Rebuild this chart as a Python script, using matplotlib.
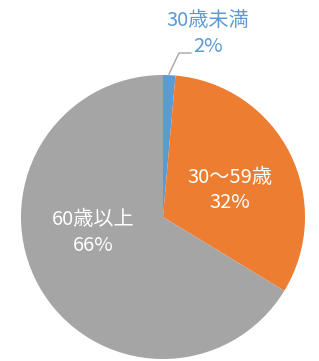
import matplotlib
matplotlib.use("Agg")
import matplotlib.pyplot as plt
import numpy as np

plt.rcParams['font.family'] = ['Noto Sans CJK JP', 'DejaVu Sans']

categories = ["30歳未満", "30～59歳", "60歳以上"]
values = [1.4, 32.3, 66.3]
pct_labels = ["2%", "32%", "66%"]
colors = ["#5B9BD5", "#ED7D31", "#A5A5A5"]

W, H = 319, 361
fig = plt.figure(figsize=(W / 100, H / 100), dpi=100)
cx, cy, R = 163, 217, 142
ax = fig.add_axes([(cx - R) / W, (H - cy - R) / H, 2 * R / W, 2 * R / H])
wedges, _ = ax.pie(values, colors=colors, startangle=90, counterclock=False,
                   wedgeprops=dict(linewidth=0))
ax.set_xlim(-1, 1)
ax.set_ylim(-1, 1)
ax.set_aspect('equal')
ax.axis('off')

def px(x, y):
    return ((x - cx) / R, (cy - y) / R)

fs = 14.5
# inside labels
for (x, y1, y2), cat, pct in zip([(230, 178, 203), (93, 220, 246)],
                                  categories[1:], pct_labels[1:]):
    ax.text(*px(x, y1), cat, color='white', fontsize=fs, ha='center', va='center')
    ax.text(*px(x, y2), pct, color='white', fontsize=fs, ha='center', va='center')

# outside label for small slice
ax.text(*px(208, 20), categories[0], color=colors[0], fontsize=fs, ha='center',
        va='center', clip_on=False)
ax.text(*px(208, 47), pct_labels[0], color=colors[0], fontsize=fs, ha='center',
        va='center', clip_on=False)
pts = [px(169, 74), px(179, 53), px(191, 53)]
ax.plot([p[0] for p in pts], [p[1] for p in pts], color='#A5A5A5', lw=1, clip_on=False)

fig.savefig("out.png", dpi=100)
